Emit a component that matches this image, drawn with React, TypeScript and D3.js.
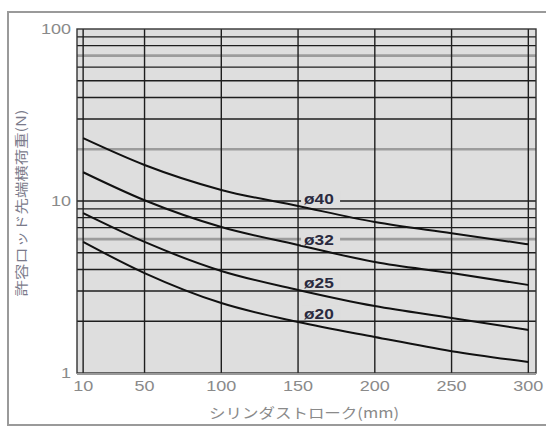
import { useEffect, useRef } from 'react';
import * as d3 from 'd3';

// stroke (mm) at which the curves were read
const strokes = [10, 50, 100, 150, 200, 250, 300];
// allowable rod-end lateral load (N), per bore
const phi40 = [23.2, 16.2, 11.6, 9.35, 7.55, 6.5, 5.6];
const phi32 = [14.7, 10.1, 7.06, 5.55, 4.42, 3.81, 3.25];
const phi25 = [8.5, 5.78, 3.92, 3.04, 2.45, 2.09, 1.78];
const phi20 = [5.78, 3.81, 2.55, 1.98, 1.62, 1.34, 1.16];
const seriesNames = ['ø40', 'ø32', 'ø25', 'ø20'];
const seriesLabelAt = [10.4, 6.0, 3.38, 2.23];

const xTicks = [10, 50, 100, 150, 200, 250, 300];
const yTicks = [1, 10, 100];
const yGrid = [2, 3, 4, 5, 6, 7, 8, 9, 10, 20, 30, 40, 50, 60, 70, 80, 90];
const yGridSoft = [6, 20, 70];

const xTitle = 'シリンダストローク(mm)';
const yTitle = '許容ロッド先端横荷重(N)';

const W = 546;
const H = 427;

const App = () => {
  const svgRef = useRef<SVGSVGElement>(null);

  useEffect(() => {
    const svg = d3.select(svgRef.current);
    svg.selectAll('*').remove();

    const left = 77, right = 536, top = 29, bottom = 373;

    const x = d3.scaleLinear().domain([6, 305]).range([left, right]);
    const y = d3.scaleLog().domain([1, 100]).range([bottom, top]);

    // outer frame
    svg.append('rect')
      .attr('x', 8).attr('y', 12)
      .attr('width', W).attr('height', 413)
      .attr('fill', 'none')
      .attr('stroke', '#9a9a9a')
      .attr('stroke-width', 2);

    // plot background
    svg.append('rect')
      .attr('x', left).attr('y', top)
      .attr('width', right - left).attr('height', bottom - top)
      .attr('fill', '#dedede');

    const g = svg.append('g');

    // horizontal grid
    g.selectAll('.hgrid')
      .data(yGrid)
      .enter().append('line')
      .attr('x1', left).attr('x2', right)
      .attr('y1', d => y(d)).attr('y2', d => y(d))
      .attr('stroke', d => (yGridSoft.includes(d) ? '#9c9c9c' : '#1e1e1e'))
      .attr('stroke-width', d => (yGridSoft.includes(d) ? 2.6 : 1.4));

    // vertical grid
    g.selectAll('.vgrid')
      .data(xTicks)
      .enter().append('line')
      .attr('x1', d => x(d)).attr('x2', d => x(d))
      .attr('y1', top).attr('y2', bottom)
      .attr('stroke', '#1e1e1e')
      .attr('stroke-width', 1.4);

    // plot border
    g.append('rect')
      .attr('x', left).attr('y', top)
      .attr('width', right - left).attr('height', bottom - top)
      .attr('fill', 'none')
      .attr('stroke', '#333')
      .attr('stroke-width', 1.4);
    g.append('line')
      .attr('x1', left).attr('x2', right)
      .attr('y1', bottom + 1).attr('y2', bottom + 1)
      .attr('stroke', '#999').attr('stroke-width', 2);

    // curves
    const line = d3.line<number>()
      .x((_, i) => x(strokes[i]))
      .y(d => y(d))
      .curve(d3.curveMonotoneX);

    [phi40, phi32, phi25, phi20].forEach(s => {
      g.append('path')
        .datum(s)
        .attr('fill', 'none')
        .attr('stroke', '#111')
        .attr('stroke-width', 2)
        .attr('d', line);
    });

    // curve labels with masks over grid
    seriesNames.forEach((name, i) => {
      const ly = y(seriesLabelAt[i]);
      g.append('rect')
        .attr('x', x(150) + 3).attr('y', ly - 8)
        .attr('width', 39).attr('height', 14)
        .attr('fill', '#dedede');
      g.append('text')
        .attr('transform', `translate(${x(150) + 6},${ly + 5.5}) scale(1.15,1)`)
        .attr('font-family', 'Liberation Sans, Arial, sans-serif')
        .attr('font-size', 15)
        .attr('font-weight', 600)
        .attr('fill', '#2a2a3e')
        .text(name);
    });

    const tickFont = 'Liberation Sans, Arial, sans-serif';

    // x tick labels
    svg.selectAll('.xt')
      .data(xTicks)
      .enter().append('text')
      .attr('transform', d => `translate(${x(d)},${bottom + 18}) scale(1.2,1)`)
      .attr('text-anchor', 'middle')
      .attr('font-family', tickFont)
      .attr('font-size', 15)
      .attr('fill', '#8a8a8a')
      .text(d => d);

    // y tick labels
    svg.selectAll('.yt')
      .data(yTicks)
      .enter().append('text')
      .attr('transform', d => `translate(${left - 6},${y(d) + 5}) scale(1.2,1)`)
      .attr('text-anchor', 'end')
      .attr('font-family', tickFont)
      .attr('font-size', 15)
      .attr('fill', '#8a8a8a')
      .text(d => d);

    // axis titles
    svg.append('text')
      .attr('x', 304).attr('y', 418)
      .attr('text-anchor', 'middle')
      .attr('font-family', 'Noto Sans CJK JP, sans-serif')
      .attr('font-size', 14)
      .attr('textLength', 190)
      .attr('lengthAdjust', 'spacingAndGlyphs')
      .attr('fill', '#8a8a8a')
      .text(xTitle);

    svg.append('text')
      .attr('transform', `translate(26,203) rotate(-90)`)
      .attr('text-anchor', 'middle')
      .attr('font-family', 'Noto Sans CJK JP, sans-serif')
      .attr('font-size', 13)
      .attr('textLength', 187)
      .attr('lengthAdjust', 'spacingAndGlyphs')
      .attr('fill', '#7a7a8a')
      .text(yTitle);
  }, []);

  return (
    <svg
      ref={svgRef}
      width={W}
      height={H}
      style={{ position: 'absolute', left: 0, top: 0, background: '#fff' }}
    />
  );
};

export default App;
